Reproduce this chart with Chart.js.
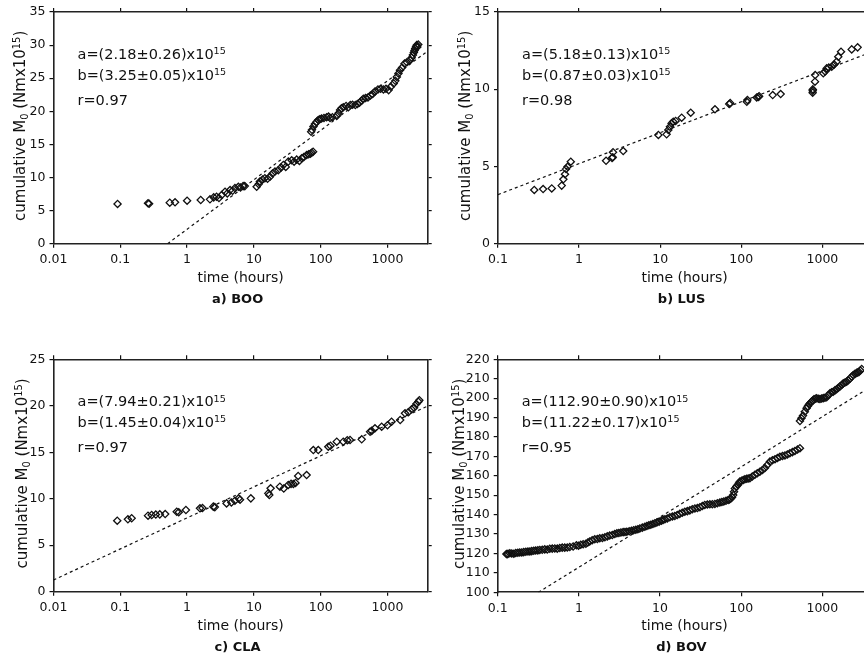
<!DOCTYPE html>
<html>
<head>
<meta charset="utf-8">
<script src="https://cdn.jsdelivr.net/npm/chart.js@4.4.1/dist/chart.umd.min.js"></script>
<style>
  body { margin: 0; background: #fff; width: 864px; height: 662px; overflow: hidden; position: relative; }
  canvas { position: absolute; }
</style>
</head>
<body>
<canvas id="boo" width="440" height="318" style="left:0px;top:0px"></canvas>
<canvas id="lus" width="440" height="318" style="left:440px;top:0px"></canvas>
<canvas id="cla" width="440" height="344" style="left:0px;top:318px"></canvas>
<canvas id="bov" width="440" height="344" style="left:440px;top:318px"></canvas>
<script>
// values (time in hours, cumulative moment in 1e15 Nm)
const booTime = [0.091, 0.26, 0.27, 0.55, 0.66, 1.0, 1.6, 2.2, 2.5, 2.76, 3.0, 3.3, 3.7, 4.0, 4.4, 4.8, 5.2, 5.85, 6.3, 6.9, 7.3,
  11.0, 11.8, 12.3, 13.5, 14.6, 16.0, 17.4, 19.0, 20.7, 23.2, 25.5, 27.6, 30.0, 32.7, 36.8, 40.0, 43.7, 48.0, 52.0, 56.0, 61.7, 66.0, 70.0, 73.3, 77.0,
  72, 74, 78, 82, 87, 92, 97, 103, 112, 123, 131, 138, 150, 174, 185, 195, 205, 218, 240, 260, 278, 300, 330, 355, 380, 410, 435, 470, 510, 555,
  600, 650, 720, 790, 870, 950, 1040, 1120, 1240, 1310, 1380, 1460, 1540, 1650, 1800, 1950, 2180, 2300, 2400, 2480, 2540, 2600, 2680, 2740, 2800, 2890];
const booMoment = [6.0, 6.1, 6.05, 6.2, 6.25, 6.5, 6.6, 6.7, 7.0, 7.1, 6.9, 7.35, 7.85, 7.6, 8.1, 8.0, 8.4, 8.6, 8.5, 8.7, 8.7,
  8.6, 9.0, 9.4, 9.7, 9.9, 9.8, 10.1, 10.6, 10.9, 11.1, 11.5, 11.9, 11.6, 12.4, 12.6, 12.4, 12.7, 12.5, 12.9, 13.1, 13.4, 13.5, 13.6, 13.75, 13.9,
  16.9, 17.2, 17.7, 18.1, 18.4, 18.7, 18.8, 18.9, 19.0, 19.1, 19.2, 19.0, 19.1, 19.3, 19.7, 20.2, 20.45, 20.6, 20.8, 20.6, 20.95, 21.0, 20.95, 21.1, 21.3, 21.6, 21.9, 22.0, 22.1, 22.4,
  22.6, 23.0, 23.3, 23.4, 23.3, 23.4, 23.2, 23.7, 24.2, 24.6, 25.2, 25.7, 26.2, 26.6, 27.2, 27.4, 27.7, 28.1, 28.5, 28.9, 29.2, 29.5, 29.8, 30.0, 29.7, 30.1];

const lusTime = [0.28, 0.36, 0.46, 0.61, 0.64, 0.67, 0.69, 0.72, 0.79, 2.15, 2.55, 2.6, 2.62, 3.5, 9.5, 12.0, 12.6, 13.2, 13.8, 14.5, 15.5,
  18.4, 23.8, 47.4, 71, 73, 117, 119, 155, 162, 166, 244, 306, 759, 760, 762, 811, 815, 1026, 1080, 1130, 1200, 1303, 1400, 1500, 1570, 1698, 2300, 2720];
const lusMoment = [3.48, 3.54, 3.58, 3.76, 4.17, 4.5, 4.83, 4.98, 5.31, 5.37, 5.55, 5.6, 5.92, 6.0, 7.04, 7.08, 7.36, 7.57, 7.79, 7.9, 7.95,
  8.16, 8.48, 8.7, 9.04, 9.1, 9.19, 9.3, 9.47, 9.5, 9.55, 9.62, 9.69, 9.78, 9.9, 9.99, 10.49, 10.92, 11.03, 11.15, 11.35, 11.4, 11.46, 11.6, 11.78, 12.1, 12.43, 12.58, 12.71];

const claTime = [0.09, 0.13, 0.148, 0.26, 0.295, 0.34, 0.39, 0.47, 0.70, 0.75, 0.96, 1.56, 1.7, 2.47, 2.6, 3.9, 4.6, 5.2, 5.9, 6.2, 9.0,
  16.4, 17.0, 17.8, 24.5, 28, 32.7, 36, 39, 42, 46, 61.6, 77.6, 92, 130, 140, 174, 218, 250, 275, 411,
  549, 580, 650, 818, 1000, 1150, 1550, 1830, 2050, 2300, 2500, 2700, 2900, 3000];
const claMoment = [7.64, 7.79, 7.9, 8.18, 8.25, 8.3, 8.32, 8.35, 8.6, 8.55, 8.79, 8.97, 9.0, 9.15, 9.1, 9.5, 9.6, 9.79, 10.04, 9.9, 10.04,
  10.58, 10.4, 11.12, 11.3, 11.1, 11.48, 11.6, 11.59, 11.7, 12.45, 12.55, 15.24, 15.24, 15.6, 15.7, 16.14, 16.14, 16.3, 16.32, 16.39,
  17.2, 17.3, 17.58, 17.75, 17.9, 18.29, 18.47, 19.19, 19.3, 19.62, 19.8, 20.2, 20.44, 20.6];

const bovTime = [0.128, 0.134, 0.149, 0.167, 0.187, 0.209, 0.236, 0.262, 0.294, 0.33, 0.38, 0.438, 0.505, 0.582, 0.67, 0.773, 0.934, 1.055,
  1.22, 1.36, 1.57, 1.81, 2.09, 2.4, 2.77, 3.11, 3.51, 3.9, 4.45, 5.03, 5.64, 6.5, 7.28, 8.16, 9.14, 10.4, 11.5, 13.2, 15.2, 17.5, 20.2,
  23.3, 26.9, 31, 35.6, 41.1, 47.4, 54.6, 61.1, 69.1, 74.6, 79.7, 83.6, 91, 96.3, 106, 117, 128, 147.6, 170, 196, 226, 261, 300, 346, 398, 459, 530,
  0.131, 0.141, 0.158, 0.177, 0.198, 0.222, 0.249, 0.278, 0.312, 0.354, 0.408, 0.47, 0.542, 0.624, 0.72, 0.85, 0.99, 1.13, 1.29, 1.46, 1.69,
  1.95, 2.24, 2.58, 2.94, 3.3, 3.7, 4.17, 4.73, 5.33, 6.05, 6.88, 7.7, 8.64, 9.75, 10.9, 12.3, 14.2, 16.3, 18.8, 21.7, 25.0, 28.9, 33.2,
  38.3, 44.1, 50.9, 57.8, 65.0, 71.8, 77.1, 81.6, 87.2, 93.6, 101, 111, 122, 137, 158, 183, 210, 243, 280, 323, 371, 428, 494,
  530, 577, 640, 684, 738, 788, 851, 934, 1026, 1130, 1241, 1362, 1500, 1648, 1811, 1994, 2188, 2404, 2647, 2826, 3053,
  553, 608, 662, 711, 763, 820, 892, 980, 1078, 1185, 1300, 1430, 1575, 1730, 1900, 2090, 2295, 2525, 2735, 2940];
const bovMoment = [119.7, 119.8, 120, 120.2, 120.5, 120.7, 121, 121.2, 121.5, 121.8, 122.1, 122.4, 122.6, 122.8, 123, 123.3, 124.2, 124.5,
  125, 126.2, 127.3, 127.8, 128.3, 129.2, 130, 130.5, 131, 131.2, 131.7, 132.2, 132.9, 133.8, 134.5, 135.2, 136, 136.9, 137.6, 138.6, 139.3, 140.4, 141.5,
  142.2, 143.2, 143.8, 145, 145.3, 145.5, 146.2, 146.8, 147.5, 148.3, 150.1, 153.5, 155.3, 157, 157.8, 158.5, 158.7, 160.5, 162.1, 164, 167.3, 168.5, 169.8, 170.5, 171.6, 172.8, 174.2,
  119.6, 120.1, 119.9, 120.4, 120.5, 120.9, 121.0, 121.4, 121.6, 121.9, 122.0, 122.5, 122.5, 123.0, 123.1, 123.6, 124.0, 124.8, 125.6, 126.8, 127.5,
  128.0, 128.8, 129.5, 130.4, 130.8, 131.1, 131.4, 132.0, 132.5, 133.3, 134.2, 134.8, 135.6, 136.4, 137.3, 138.0, 139.0, 139.8, 141.0, 141.8, 142.8, 143.4, 144.4,
  145.2, 145.4, 145.9, 146.5, 147.1, 147.8, 149.0, 151.8, 154.5, 156.2, 157.4, 158.2, 158.6, 159.6, 161.3, 163.0, 165.6, 168.0, 169.2, 170.2, 171.0, 172.2, 173.5,
  188.2, 191, 194.8, 196.8, 198.2, 199.4, 199.9, 199.5, 200, 200.5, 202.5, 203.3, 204.6, 206, 207.6, 208.5, 210, 211.9, 213, 213.5, 215,
  189.6, 193, 195.8, 197.5, 198.8, 199.7, 199.7, 199.8, 200.2, 201.5, 203, 204, 205.3, 206.8, 208, 209.2, 211, 212.5, 213.2, 214.2];

// end points of the dashed fit line M = a + b ln t, as drawn
const booFitTime = [0.51, 4000];
const booFitMoment = [0, 29.1];
const lusFitTime = [0.1, 4000];
const lusFitMoment = [3.18, 12.4];
const claFitTime = [0.01, 4000];
const claFitMoment = [1.26, 19.97];
const bovFitTime = [0.317, 4000];
const bovFitMoment = [100, 206.0];

// tick labels
const wideTicks = [0.01, 0.1, 1, 10, 100, 1000];
const wideLabels = ['0.01', '0.1', '1', '10', '100', '1000'];
const narrowTicks = [0.1, 1, 10, 100, 1000];
const narrowLabels = ['0.1', '1', '10', '100', '1000'];
const booTicks = [0, 5, 10, 15, 20, 25, 30, 35];
const lusTicks = [0, 5, 10, 15];
const claTicks = [0, 5, 10, 15, 20, 25];
const bovTicks = [100, 110, 120, 130, 140, 150, 160, 170, 180, 190, 200, 210, 220];

const booText = ['a=(2.18±0.26)x10', 'b=(3.25±0.05)x10', 'r=0.97'];
const lusText = ['a=(5.18±0.13)x10', 'b=(0.87±0.03)x10', 'r=0.98'];
const claText = ['a=(7.94±0.21)x10', 'b=(1.45±0.04)x10', 'r=0.97'];
const bovText = ['a=(112.90±0.90)x10', 'b=(11.22±0.17)x10', 'r=0.95'];

const INK = '#111';
const FONT = '"DejaVu Sans", sans-serif';

// draw text made of runs: [text, 'sup' | 'sub' | undefined]
const drawRuns = (ctx, runs, x, y, size, measureOnly) => {
    let cx = x;
    runs.forEach(([t, kind]) => {
        const s = kind ? size * 0.66 : size;
        const dy = kind === 'sup' ? -size * 0.32 : kind === 'sub' ? size * 0.22 : 0;
        ctx.font = `${s}px ${FONT}`;
        if (!measureOnly) ctx.fillText(t, cx, y + dy);
        cx += ctx.measureText(t).width;
    });
    return cx - x;
};

const paperText = {
    id: 'paperText',
    afterDraw(chart, args, opts) {
        const ctx = chart.ctx;
        const a = chart.chartArea;
        ctx.save();
        ctx.fillStyle = INK;
        ctx.textBaseline = 'alphabetic';
        ctx.textAlign = 'left';

        // fit results
        const tx = a.left + 24;
        drawRuns(ctx, [[opts.lines[0]], ['15', 'sup']], tx, a.top + 47, 14.5);
        drawRuns(ctx, [[opts.lines[1]], ['15', 'sup']], tx, a.top + 67.5, 14.5);
        drawRuns(ctx, [[opts.lines[2]]], tx, a.top + 92.5, 14.5);

        // y axis title
        const yRuns = [['cumulative M'], ['0', 'sub'], [' (Nmx10'], ['15', 'sup'], [')']];
        const w = drawRuns(ctx, yRuns, 0, 0, 15, true);
        ctx.save();
        ctx.translate(a.left - opts.yGap, (a.top + a.bottom) / 2 - 2);
        ctx.rotate(-Math.PI / 2);
        drawRuns(ctx, yRuns, -w / 2, 0, 15);
        ctx.restore();

        // x axis title and caption
        const mid = (a.left + a.right) / 2;
        ctx.textAlign = 'center';
        ctx.font = `14px ${FONT}`;
        ctx.fillText('time (hours)', mid, a.bottom + 38);
        ctx.font = `bold 13px ${FONT}`;
        ctx.fillText(opts.caption, mid - 3, a.bottom + 59);
        ctx.restore();
    }
};

const axis = (type, position, range, ticks, labels, size, showLabels) => {
    const horizontal = position === 'top' || position === 'bottom';
    return {
        type,
        position,
        min: range[0],
        max: range[1],
        afterBuildTicks: s => { s.ticks = ticks.map(v => ({ value: v })); },
        afterFit: s => { if (horizontal) s.height = size; else s.width = size; },
        ticks: {
            display: showLabels,
            autoSkip: false,
            maxRotation: 0,
            padding: horizontal ? 5 : 4,
            color: INK,
            font: { family: FONT, size: 12.5 },
            callback: (v, i) => labels[i]
        },
        grid: { drawOnChartArea: false, drawTicks: true, tickLength: 4, color: INK, lineWidth: 1.2 },
        border: { display: true, color: '#222', width: 1.6 }
    };
};

const makePanel = (p) => {
    const canvas = document.getElementById(p.id);
    const box = { x: parseFloat(canvas.style.left), y: parseFloat(canvas.style.top), w: canvas.width, h: canvas.height };
    const [left, top, right, bottom] = p.area;
    const xr = [p.xTicks[0], 4000];
    const yr = [p.yTicks[0], p.yTicks[p.yTicks.length - 1]];
    const yStr = p.yTicks.map(String);

    new Chart(canvas, {
        type: 'scatter',
        data: {
            datasets: [
                {
                    data: p.time.map((t, i) => ({ x: t, y: p.moment[i] })),
                    pointStyle: 'rectRot',
                    pointRadius: 3.6,
                    borderWidth: 1.3,
                    borderColor: INK,
                    backgroundColor: 'rgba(0,0,0,0)',
                    order: 2
                },
                {
                    type: 'line',
                    data: p.fitTime.map((t, i) => ({ x: t, y: p.fitMoment[i] })),
                    borderColor: INK,
                    borderWidth: 1.2,
                    borderDash: [3, 3],
                    pointRadius: 0,
                    fill: false,
                    order: 1
                }
            ]
        },
        options: {
            responsive: false,
            animation: false,
            devicePixelRatio: 1,
            layout: { padding: 0 },
            plugins: {
                legend: { display: false },
                tooltip: { enabled: false },
                paperText: { lines: p.text, caption: p.caption, yGap: p.yGap }
            },
            scales: {
                x: axis('logarithmic', 'bottom', xr, p.xTicks, p.xLabels, box.y + box.h - bottom, true),
                x2: axis('logarithmic', 'top', xr, p.xTicks, p.xLabels, top - box.y, false),
                y: axis('linear', 'left', yr, p.yTicks, yStr, left - box.x, true),
                y2: axis('linear', 'right', yr, p.yTicks, yStr, box.x + box.w - right, false)
            }
        },
        plugins: [paperText]
    });
};

makePanel({ id: 'boo', area: [53.5, 12, 427.7, 243.7], time: booTime, moment: booMoment, fitTime: booFitTime, fitMoment: booFitMoment,
    xTicks: wideTicks, xLabels: wideLabels, yTicks: booTicks, text: booText, caption: 'a) BOO', yGap: 28.5 });
makePanel({ id: 'lus', area: [498, 12, 871.2, 243.7], time: lusTime, moment: lusMoment, fitTime: lusFitTime, fitMoment: lusFitMoment,
    xTicks: narrowTicks, xLabels: narrowLabels, yTicks: lusTicks, text: lusText, caption: 'b) LUS', yGap: 28 });
makePanel({ id: 'cla', area: [53.5, 359.3, 427.7, 591.7], time: claTime, moment: claMoment, fitTime: claFitTime, fitMoment: claFitMoment,
    xTicks: wideTicks, xLabels: wideLabels, yTicks: claTicks, text: claText, caption: 'c) CLA', yGap: 27 });
makePanel({ id: 'bov', area: [497.7, 359.3, 871.2, 592.3], time: bovTime, moment: bovMoment, fitTime: bovFitTime, fitMoment: bovFitMoment,
    xTicks: narrowTicks, xLabels: narrowLabels, yTicks: bovTicks, text: bovText, caption: 'd) BOV', yGap: 34 });
</script>
</body>
</html>
